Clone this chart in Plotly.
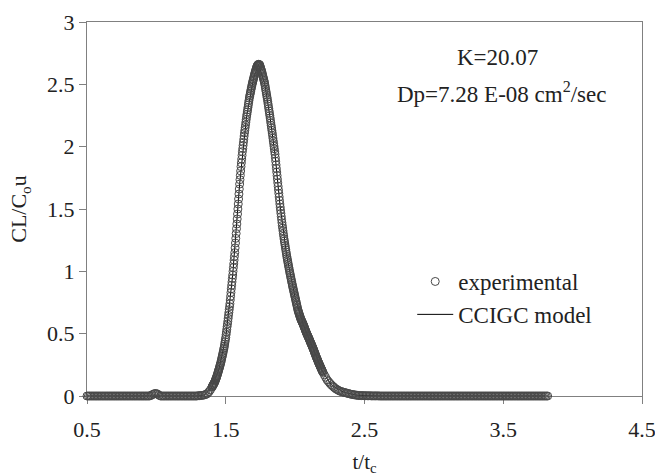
import numpy as np
import plotly.graph_objects as go

# ---- experimental data (read from the picture), split into sampling segments ----
# segment A: t/tc from 0.50, step 0.01 (baseline + small bump near 1.0)
segA_start, segA_step = 0.50, 0.01
segA_y = [0, 0, 0, 0, 0, 0, 0, 0, 0, 0, 0, 0, 0, 0, 0, 0, 0, 0, 0, 0,
          0, 0, 0, 0, 0, 0, 0, 0, 0, 0, 0, 0, 0, 0, 0, 0, 0, 0, 0, 0,
          0, 0, 0, 0, 0, 0,
          0.004, 0.010, 0.016, 0.020, 0.020, 0.014, 0.006,
          0, 0, 0, 0, 0, 0, 0, 0, 0, 0, 0, 0, 0, 0, 0, 0, 0, 0, 0, 0,
          0, 0, 0, 0, 0, 0, 0,
          0.002, 0.003, 0.004, 0.005, 0.007, 0.010, 0.014, 0.022, 0.035, 0.050]

# segment B: t/tc from 1.400, step 0.0025 (peak region)
segB_start, segB_step = 1.400, 0.0025
segB_y = [
    0.070, 0.075, 0.080, 0.085, 0.090, 0.095, 0.100, 0.105, 0.110, 0.118, 0.125, 0.133, 0.140, 0.148, 0.155, 0.164, 0.173, 0.183, 0.192, 0.201,
    0.210, 0.220, 0.230, 0.240, 0.250, 0.260, 0.270, 0.283, 0.295, 0.308, 0.320, 0.333, 0.345, 0.359, 0.373, 0.386, 0.400, 0.418, 0.435, 0.453,
    0.470, 0.492, 0.513, 0.535, 0.557, 0.578, 0.600, 0.623, 0.647, 0.670, 0.693, 0.717, 0.740, 0.770, 0.800, 0.830, 0.860, 0.888, 0.915, 0.943,
    0.970, 1.000, 1.030, 1.060, 1.090, 1.120, 1.150, 1.188, 1.227, 1.265, 1.303, 1.342, 1.380, 1.420, 1.460, 1.500, 1.540, 1.580, 1.620, 1.660,
    1.700, 1.735, 1.770, 1.805, 1.840, 1.870, 1.900, 1.930, 1.960, 1.985, 2.010, 2.035, 2.060, 2.085, 2.110, 2.132, 2.153, 2.175, 2.197, 2.218,
    2.240, 2.259, 2.278, 2.296, 2.315, 2.334, 2.353, 2.371, 2.390, 2.404, 2.418, 2.431, 2.445, 2.459, 2.473, 2.486, 2.500, 2.511, 2.523, 2.534,
    2.545, 2.556, 2.568, 2.579, 2.590, 2.599, 2.608, 2.618, 2.627, 2.636, 2.645, 2.650, 2.654, 2.657, 2.660, 2.660, 2.659, 2.657, 2.655, 2.646,
    2.637, 2.627, 2.618, 2.609, 2.600, 2.589, 2.578, 2.566, 2.555, 2.544, 2.533, 2.521, 2.510, 2.494, 2.478, 2.461, 2.445, 2.429, 2.413, 2.396,
    2.380, 2.361, 2.343, 2.324, 2.305, 2.286, 2.268, 2.249, 2.230, 2.210, 2.190, 2.170, 2.150, 2.130, 2.110, 2.089, 2.068, 2.046, 2.025, 2.004,
    1.983, 1.961, 1.940, 1.911, 1.883, 1.854, 1.825, 1.796, 1.768, 1.739, 1.710, 1.682, 1.653, 1.625, 1.597, 1.568, 1.540, 1.515, 1.490, 1.465,
    1.440, 1.415, 1.390, 1.368, 1.347, 1.325, 1.303, 1.282, 1.260, 1.243, 1.225, 1.208, 1.190, 1.173, 1.155, 1.138, 1.120, 1.105, 1.090, 1.075,
    1.060, 1.045, 1.030, 1.015, 1.000, 0.986, 0.973, 0.959, 0.945, 0.931, 0.918, 0.904, 0.890, 0.878, 0.865, 0.853, 0.840, 0.828, 0.815, 0.803,
    0.790, 0.778, 0.765, 0.753, 0.740, 0.728, 0.715, 0.703, 0.690, 0.681, 0.673, 0.664, 0.655, 0.646, 0.638, 0.629, 0.620, 0.614, 0.608, 0.601,
    0.595, 0.589, 0.583, 0.576, 0.570, 0.563, 0.555, 0.548, 0.540, 0.533, 0.525, 0.518, 0.510, 0.504, 0.498, 0.491, 0.485, 0.479, 0.473, 0.466,
    0.460, 0.453, 0.447, 0.440, 0.433, 0.427, 0.420, 0.413, 0.407, 0.400, 0.393, 0.387, 0.380, 0.373, 0.365, 0.358, 0.350, 0.343, 0.335, 0.328,
    0.320, 0.313, 0.306, 0.299, 0.293, 0.286, 0.279, 0.272, 0.265, 0.259, 0.253, 0.246, 0.240, 0.234, 0.228, 0.221, 0.215, 0.209, 0.203, 0.196,
    0.190,
]

# segment C: t/tc from 2.21, step 0.01 (tail)
segC_start, segC_step = 2.21, 0.01
segC_y = [0.170, 0.150, 0.130, 0.116, 0.103, 0.090, 0.080, 0.070, 0.060, 0.053,
          0.047, 0.040, 0.037, 0.033, 0.030, 0.027, 0.024, 0.021, 0.018, 0.015,
          0.013, 0.011, 0.009, 0.007, 0.005,
          0.004, 0.004, 0.003, 0.003, 0.003, 0.002, 0.002, 0.002, 0.002, 0.001,
          0.001, 0.001, 0.001, 0.001, 0.001]

# segment D: t/tc from 2.61, step 0.01 (baseline up to 3.82)
segD_start, segD_step = 2.61, 0.01
segD_y = [0, 0, 0, 0, 0, 0, 0, 0, 0, 0, 0, 0, 0, 0, 0, 0, 0, 0, 0, 0,
          0, 0, 0, 0, 0, 0, 0, 0, 0, 0, 0, 0, 0, 0, 0, 0, 0, 0, 0, 0,
          0, 0, 0, 0, 0, 0, 0, 0, 0, 0, 0, 0, 0, 0, 0, 0, 0, 0, 0, 0,
          0, 0, 0, 0, 0, 0, 0, 0, 0, 0, 0, 0, 0, 0, 0, 0, 0, 0, 0, 0,
          0, 0, 0, 0, 0, 0, 0, 0, 0, 0, 0, 0, 0, 0, 0, 0, 0, 0, 0, 0,
          0, 0, 0, 0, 0, 0, 0, 0, 0, 0, 0, 0, 0, 0, 0, 0, 0, 0, 0, 0,
          0, 0]

# ---- CCIGC model curve ----
model_t = [0.50, 1.30, 1.35, 1.40, 1.45, 1.50, 1.55, 1.60, 1.65, 1.70, 1.735, 1.78, 1.82,
           1.855, 1.89, 1.94, 2.00, 2.06, 2.13, 2.20, 2.26, 2.35, 2.45, 2.60, 3.82]
model_y = [0.0, 0.0, 0.01, 0.07, 0.21, 0.47, 0.97, 1.70, 2.24, 2.545, 2.66, 2.51, 2.23,
           1.94, 1.54, 1.12, 0.79, 0.57, 0.38, 0.19, 0.09, 0.03, 0.005, 0.001, 0.0]

x_ticks = [0.5, 1.5, 2.5, 3.5, 4.5]
y_ticks = [0, 0.5, 1, 1.5, 2, 2.5, 3]


def seg_t(start, step, ys):
    return list(np.round(start + step * np.arange(len(ys)), 4))


exp_t = (seg_t(segA_start, segA_step, segA_y) + seg_t(segB_start, segB_step, segB_y)
         + seg_t(segC_start, segC_step, segC_y) + seg_t(segD_start, segD_step, segD_y))
exp_y = segA_y + segB_y + segC_y + segD_y

FONT = "Liberation Serif"
AX = "#808080"
TXT = "#222222"

fig = go.Figure()
fig.add_trace(go.Scatter(
    x=model_t, y=model_y, mode="lines", name="CCIGC model",
    line=dict(color="black", width=1), legendrank=2, legendgroup="m",
    cliponaxis=False))
fig.add_trace(go.Scatter(
    x=exp_t, y=exp_y, mode="markers", name="experimental",
    marker=dict(symbol="circle-open", size=8, color="#484848", line=dict(width=1)),
    legendrank=1, legendgroup="e", cliponaxis=False))

fig.update_layout(
    width=655, height=476,
    margin=dict(l=87, r=13, t=22, b=80),
    paper_bgcolor="white", plot_bgcolor="white",
    font=dict(family=FONT, size=22, color=TXT),
    showlegend=True,
    legend=dict(x=0.586, y=0.262, xanchor="left", yanchor="middle",
                bgcolor="rgba(0,0,0,0)", font=dict(size=23), itemwidth=36,
                tracegroupgap=0, traceorder="grouped"),
    annotations=[
        dict(text="K=20.07", x=0.739, y=0.904, xref="paper", yref="paper",
             showarrow=False, xanchor="center", yanchor="middle", font=dict(size=23)),
        dict(text="Dp=7.28 E-08 cm<sup>2</sup>/sec", x=0.746, y=0.812, xref="paper",
             yref="paper", showarrow=False, xanchor="center", yanchor="middle",
             font=dict(size=23)),
    ],
)
fig.update_xaxes(
    range=[0.5, 4.5], tickvals=x_ticks, ticktext=[str(v) for v in x_ticks],
    showgrid=False, zeroline=False, showline=True, linecolor=AX, linewidth=1,
    mirror=True, ticks="outside", ticklen=7, tickcolor=AX, layer="below traces",
    automargin=False, ticklabelstandoff=7, ticklabeloverflow="allow",
    title=dict(text="t/t<sub>c</sub>", standoff=19, font=dict(size=21)),
    tickfont=dict(size=22))
fig.update_yaxes(
    range=[0, 3], tickvals=y_ticks, ticktext=[f"{v:g}" for v in y_ticks],
    showgrid=False, zeroline=False, showline=True, linecolor=AX, linewidth=1,
    mirror=True, ticks="outside", ticklen=7, tickcolor=AX, layer="below traces",
    automargin=False, ticklabeloverflow="allow",
    title=dict(text="CL/C<sub>o</sub>u", standoff=14, font=dict(size=22)),
    tickfont=dict(size=22))

# remove the page's default body margin so the 655x476 figure fills the window exactly
fig.write_html(
    "out.html",
    config={"displayModeBar": False},
    post_script="document.body.style.margin='0';"
                "document.documentElement.style.overflow='hidden';")
